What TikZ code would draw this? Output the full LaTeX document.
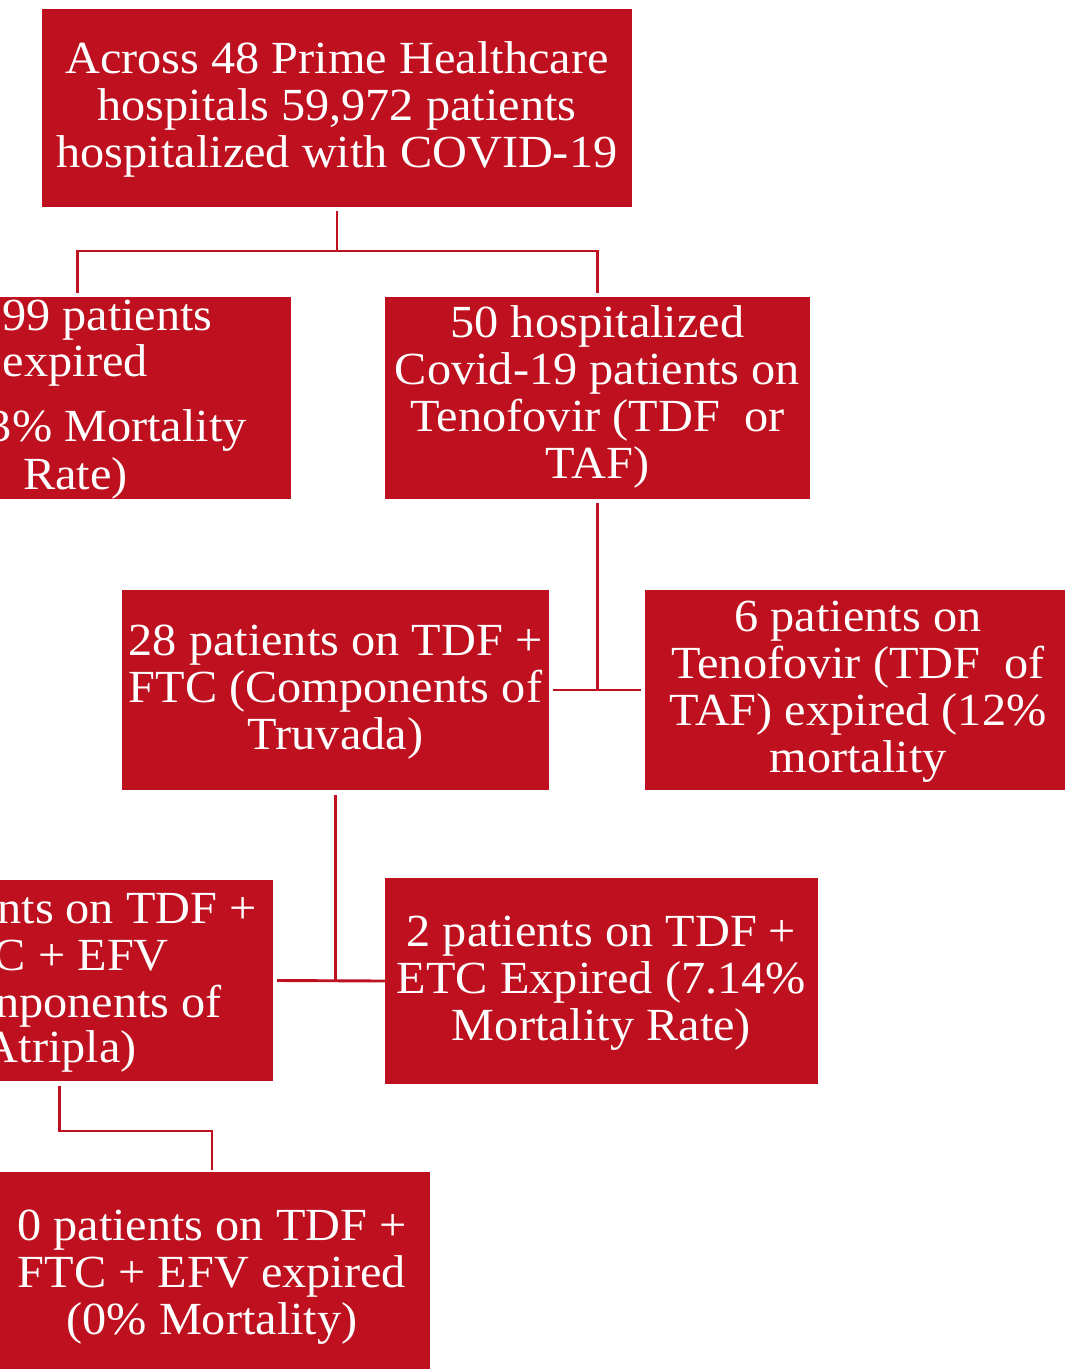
\documentclass[tikz,border=0pt]{standalone}
\usepackage{fontspec}
\setmainfont[FakeStretch=1.05]{Liberation Serif}
\definecolor{boxred}{RGB}{190,16,30}
\begin{document}
\begin{tikzpicture}[x=1pt,y=-1pt,
  box/.style={fill=boxred, draw=none, inner sep=0pt, outer sep=0pt},
  txt/.style={text=white, inner sep=0pt, align=center, font=\fontsize{46}{47}\selectfont},
  frag/.style={text=white, inner sep=0pt, anchor=base east, font=\fontsize{46}{47}\selectfont},
  conn/.style={draw=boxred, line width=2.9pt}]
\useasboundingbox (0,0) rectangle (1065,1369);
\clip (0,0) rectangle (1065,1369);

% boxes
\node[box, minimum width=590pt, minimum height=198pt] (top) at (337,108) {};
\node[txt] (toptxt) at ([yshift=-1pt]top) {Across 48 Prime Healthcare\\hospitals 59,972 patients\\hospitalized with COVID-19};

\node[box, minimum width=427pt, minimum height=202pt] (died) at (77.5,398) {};
\node[frag] (d1) at (213,330) {99 patients};
\node[frag] (d2) at (148,376) {expired};
\node[frag] (d3) at (247,441) {3\% Mortality};
\node[frag] (d4) at (128,489) {Rate)};

\node[box, minimum width=425pt, minimum height=202pt] (tenof) at (597.5,398) {};
\node[txt] (tenoftxt) at ([yshift=1pt]tenof) {50 hospitalized\\Covid-19 patients on\\Tenofovir (TDF\ \ or\\TAF)};

\node[box, minimum width=427pt, minimum height=200pt] (truv) at (335.5,690) {};
\node[txt] (truvtxt) at ([yshift=-2pt]truv) {28 patients on TDF +\\FTC (Components of\\Truvada)};

\node[box, minimum width=426pt, minimum height=200pt] (six) at (858,690) {};
\node[txt] (sixtxt) at ([yshift=-2pt]six) {6 patients on\\Tenofovir (TDF\ \ of\\TAF) expired (12\%\\mortality};

\node[box, minimum width=427pt, minimum height=201pt] (atr) at (59.5,980.5) {};
\node[frag] (a1) at (257,923) {nts on TDF +};
\node[frag] (a2) at (169,970) {C + EFV};
\node[frag] (a3) at (222,1017) {nponents of};
\node[frag] (a4) at (137,1062) {Atripla)};

\node[box, minimum width=433pt, minimum height=206pt] (two) at (601.5,981) {};
\node[txt] (twotxt) at ([yshift=-2pt]two) {2 patients on TDF +\\ETC Expired (7.14\%\\Mortality Rate)};

\node[box, minimum width=436pt, minimum height=204pt] (zero) at (212,1274) {};
\node[txt] (zerotxt) at ([yshift=-3pt]zero) {0 patients on TDF +\\FTC + EFV expired\\(0\% Mortality)};

% connectors
\coordinate (j1) at (337,251);
\draw[conn] ([yshift=-4pt]top.south) -- (j1);
\draw[conn] ([yshift=4pt]died.north) |- (j1) -| ([yshift=4pt]tenof.north);
\draw[conn] ([yshift=-4pt]tenof.south) -- (tenof.south |- truv.east);
\draw[conn] ([xshift=4pt]truv.east) -- ([xshift=-4pt]six.west);
\draw[conn] ([yshift=-5pt]truv.south) -- (truv.south |- atr.east);
\draw[conn] ([xshift=4pt]atr.east) -- (two.west);
\draw[conn] ([yshift=-5pt]atr.south) -- ++(0,45) -| ([yshift=2pt]zero.north);
\end{tikzpicture}
\end{document}
